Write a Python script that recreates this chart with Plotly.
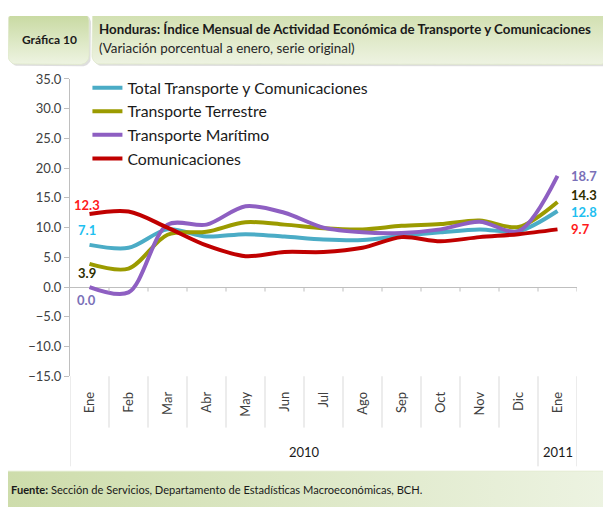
import numpy as np
import plotly.graph_objects as go

W, H = 611, 507
OFF = 8  # the page's default body margin shifts the figure by this many pixels

months = ["Ene", "Feb", "Mar", "Abr", "May", "Jun", "Jul", "Ago", "Sep", "Oct", "Nov", "Dic", "Ene"]
years = ["2010", "2011"]
year_span = [(0, 11), (12, 12)]

series_names = ["Total Transporte y Comunicaciones", "Transporte Terrestre",
                "Transporte Marítimo", "Comunicaciones"]
total = [7.1, 6.6, 9.7, 8.5, 8.9, 8.5, 8.0, 7.9, 8.6, 9.2, 9.7, 9.4, 12.8]
terrestre = [3.9, 3.1, 8.8, 9.3, 10.9, 10.5, 9.9, 9.7, 10.3, 10.6, 11.2, 10.1, 14.3]
maritimo = [0.0, -0.9, 10.5, 10.5, 13.6, 12.5, 10.0, 9.2, 9.1, 9.7, 11.0, 9.4, 18.7]
comunicaciones = [12.3, 12.7, 10.0, 7.0, 5.2, 5.9, 5.9, 6.6, 8.4, 7.7, 8.4, 8.9, 9.7]

line_colors = ["#4bacc6", "#9b9b00", "#8e5fc2", "#c00000"]
label_colors = ["#1ec0f0", "#2e2e00", "#7a70b8", "#ff1a1a"]
values = [total, terrestre, maritimo, comunicaciones]

FONT = "Lato"


def p(v):
    """page pixel -> figure pixel"""
    return v - OFF


# plot area on the page
PL, PR, PT, PB = p(70), p(577), p(73), p(380)

fig = go.Figure()


def rrect(x0, y0, x1, y1, r, n=10):
    xs, ys = [], []
    corners = [(x1 - r, y0 + r, -90, 0), (x1 - r, y1 - r, 0, 90),
               (x0 + r, y1 - r, 90, 180), (x0 + r, y0 + r, 180, 270)]
    for cx, cy, a0, a1 in corners:
        for t in np.radians(np.linspace(a0, a1, n)):
            xs.append(cx + r * np.cos(t))
            ys.append(cy + r * np.sin(t))
    xs.append(xs[0]); ys.append(ys[0])
    return xs, ys


def deco(x0, y0, x1, y1, r, c0, c1, gtype, shadow=True):
    x0, y0, x1, y1 = p(x0), p(y0), p(x1), p(y1)
    if shadow:
        sx, sy = rrect(x0 + 2, y0 + 2, x1 + 2, y1 + 2, r)
        fig.add_trace(go.Scatter(x=sx, y=sy, xaxis="x2", yaxis="y2", mode="lines",
                                 fill="toself", fillcolor="rgba(0,0,0,0.13)",
                                 line=dict(width=0), hoverinfo="skip", showlegend=False))
    xs, ys = rrect(x0, y0, x1, y1, r)
    fig.add_trace(go.Scatter(x=xs, y=ys, xaxis="x2", yaxis="y2", mode="lines",
                             fill="toself",
                             fillgradient=dict(type=gtype, colorscale=[[0, c0], [1, c1]]),
                             line=dict(width=0.8, color="#dfe8cc"), hoverinfo="skip",
                             showlegend=False))


# decorative header / footer boxes (page coordinates)
deco(8, 4, 89, 58, 9, "#eef4e2", "#c6d89e", "vertical")
deco(92, 2, 609, 58, 9, "#eef3e2", "#cfdeac", "vertical")
deco(-5, 478, 630, 530, 6, "#cddcaa", "#eef4e4", "horizontal", shadow=False)

# data series
xs_idx = list(range(len(months)))
for name, vals, col in zip(series_names, values, line_colors):
    fig.add_trace(go.Scatter(x=xs_idx, y=vals, name=name, mode="lines",
                             line=dict(color=col, width=4, shape="spline", smoothing=0.9),
                             legendgroup=name, hoverinfo="x+y"))

ann = []
# data labels at first and last point
left_shift = [15, -9, -13, 9]
right_shift = [-1, 7, 0, 0]
for vals, col, ls, rs in zip(values, label_colors, left_shift, right_shift):
    ann.append(dict(x=0, y=vals[0], xref="x", yref="y", text=f"<b>{vals[0]:.1f}</b>",
                    showarrow=False, xanchor="center", yanchor="middle", xshift=-3, yshift=ls,
                    font=dict(family=FONT, size=13, color=col)))
    ann.append(dict(x=len(vals) - 1, y=vals[-1], xref="x", yref="y",
                    text=f"<b>{vals[-1]:.1f}</b>", showarrow=False, xanchor="left",
                    yanchor="middle", xshift=11, yshift=rs,
                    font=dict(family=FONT, size=13, color=col)))

# year labels
for yr, (a, b) in zip(years, year_span):
    ann.append(dict(x=(a + b) / 2, y=p(458), xref="x", yref="y2", text=yr, showarrow=False,
                    font=dict(family=FONT, size=13, color="#1a1a1a")))

# header texts
ann.append(dict(x=p(49), y=p(32), xref="x2", yref="y2", text="<b>Gráfica 10</b>",
                showarrow=False, font=dict(family=FONT, size=12, color="#1a1a1a")))
ann.append(dict(x=p(97), y=p(21), xref="x2", yref="y2", xanchor="left",
                text="<b>Honduras: Índice Mensual de Actividad Económica de Transporte y Comunicaciones</b>",
                showarrow=False, font=dict(family=FONT, size=13.3, color="#1a1a1a")))
ann.append(dict(x=p(97), y=p(41), xref="x2", yref="y2", xanchor="left",
                text="(Variación porcentual a enero, serie original)",
                showarrow=False, font=dict(family=FONT, size=13.4, color="#262626")))
ann.append(dict(x=p(8.5), y=p(497), xref="x2", yref="y2", xanchor="left",
                text="<b>Fuente:</b> Sección de Servicios, Departamento de Estadísticas Macroeconómicas, BCH.",
                showarrow=False, font=dict(family=FONT, size=11.1, color="#1a1a1a")))

# shapes: category dividers and zero-line ticks
shapes = []
n = len(months)
long_bounds = {-0.5, n - 1.5, n - 0.5}
for i in range(n + 1):
    b = i - 0.5
    shapes.append(dict(type="line", xref="x", yref="y2", x0=b, x1=b, y0=PB,
                       y1=p(473) if b in long_bounds else p(433),
                       line=dict(color="#d9d9d9", width=1)))
    if 0 < i < n + 1:
        shapes.append(dict(type="line", xref="x", yref="y", x0=b, x1=b, y0=0, y1=-0.75,
                           line=dict(color="#bfbfbf", width=1)))

fig.update_layout(
    width=W, height=H,
    margin=dict(l=0, r=0, t=0, b=0),
    paper_bgcolor="white",
    plot_bgcolor="rgba(0,0,0,0)",
    showlegend=True,
    legend=dict(x=0.130, y=0.888, xanchor="left", yanchor="top",
                bgcolor="rgba(0,0,0,0)", traceorder="grouped", tracegroupgap=0,
                font=dict(family=FONT, size=15.8, color="#1a1a1a"), itemwidth=30),
    xaxis=dict(domain=[PL / W, PR / W], range=[-0.5, n - 0.5], tickmode="array",
               tickvals=xs_idx, ticktext=months, tickangle=-90, ticks="",
               showgrid=False, zeroline=False, showline=False, ticklabelstandoff=12,
               tickfont=dict(family=FONT, size=13, color="#404040"), anchor="y"),
    yaxis=dict(domain=[1 - PB / H, 1 - PT / H], range=[-15, 35], dtick=5, tick0=0,
               tickformat=".1f", ticks="outside", ticklen=5, tickcolor="#bfbfbf",
               showline=True, linecolor="#bfbfbf", linewidth=1, showgrid=False,
               zeroline=True, zerolinecolor="#bfbfbf", zerolinewidth=1,
               tickfont=dict(family=FONT, size=13, color="#404040"), anchor="x"),
    xaxis2=dict(domain=[0, 1], range=[0, W], visible=False, anchor="y2", fixedrange=True),
    yaxis2=dict(domain=[0, 1], range=[H, 0], visible=False, anchor="x2", fixedrange=True),
    annotations=ann,
    shapes=shapes,
)

fig.write_html("out.html", config={"displayModeBar": False})
